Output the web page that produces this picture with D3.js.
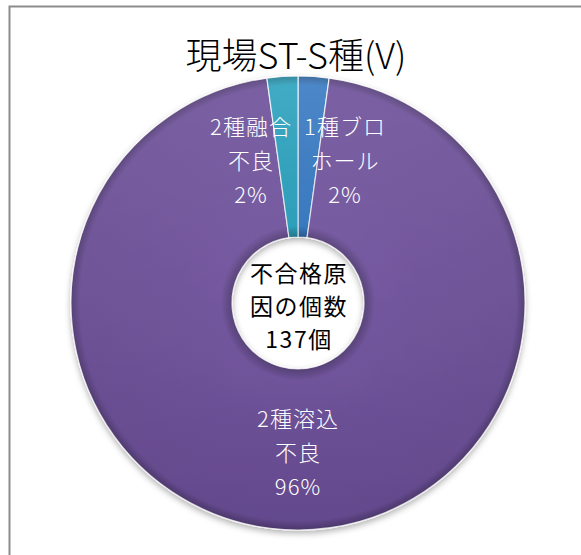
<!DOCTYPE html>
<html><head><meta charset="utf-8">
<script src="https://cdn.jsdelivr.net/npm/d3@7"></script>
<style>html,body{margin:0;padding:0;background:#fff;}svg{display:block;}</style>
</head><body>
<svg id="c" width="581" height="555"></svg>
<script>
const title = "現場ST-S種(V)";
const categories = ["1種ブロ\nホール", "2種溶込\n不良", "2種融合\n不良"];
const values = [3, 131, 3];
const percentLabels = ["2%", "96%", "2%"];
const colors = ["#3a7cc4", "#6c4f99", "#2ea3bf"];
const centerLines = ["不合格原", "因の個数", "137個"];

const svg = d3.select("#c");
const cx = 298, cy = 303, rOuter = 227, rInner = 66;

// frame
svg.append("rect").attr("x", 9.5).attr("y", 6.5).attr("width", 600).attr("height", 600)
  .attr("fill", "#fff").attr("stroke", "#8c8c8c").attr("stroke-width", 2);

const defs = svg.append("defs");
const f = defs.append("filter").attr("id", "sh").attr("x", "-20%").attr("y", "-20%").attr("width", "140%").attr("height", "140%");
f.append("feDropShadow").attr("dx", 0).attr("dy", 3).attr("stdDeviation", 3).attr("flood-color", "#000").attr("flood-opacity", 0.3);

colors.forEach((c, i) => {
  const gr = defs.append("radialGradient").attr("id", "g" + i)
    .attr("gradientUnits", "userSpaceOnUse").attr("cx", 0).attr("cy", 0).attr("r", rOuter);
  const base = d3.color(c);
  const stops = [
    [rInner / rOuter, base.darker(0.7)],
    [rInner / rOuter + 0.05, base.brighter(0.15)],
    [0.55, base.brighter(0.08)],
    [0.96, base],
    [1, base.darker(0.8)]
  ];
  stops.forEach(([o, col]) => gr.append("stop").attr("offset", o).attr("stop-color", col.formatHex()));
});
const lg = defs.append("linearGradient").attr("id", "lt").attr("x1", 0).attr("y1", 0).attr("x2", 0).attr("y2", 1);
lg.append("stop").attr("offset", 0).attr("stop-color", "#fff").attr("stop-opacity", 0.1);
lg.append("stop").attr("offset", 1).attr("stop-color", "#000").attr("stop-opacity", 0.08);

const pie = d3.pie().sort(null).value(d => d)(values);
const arc = d3.arc().innerRadius(rInner).outerRadius(rOuter);

const g = svg.append("g").attr("transform", `translate(${cx},${cy})`);
const sg = g.append("g").attr("filter", "url(#sh)");
sg.selectAll("path.s").data(pie).enter().append("path").attr("class", "s")
  .attr("d", arc).attr("fill", (d, i) => `url(#g${i})`)
  .attr("stroke", "#ffffff").attr("stroke-width", 1.2).attr("stroke-opacity", 0.8);
sg.selectAll("path.o").data(pie).enter().append("path").attr("class", "o")
  .attr("d", arc).attr("fill", "url(#lt)").attr("pointer-events", "none");

// labels
const labelR = 150;
pie.forEach((d, i) => {
  let a = (d.startAngle + d.endAngle) / 2;
  const frac = (d.endAngle - d.startAngle) / (2 * Math.PI);
  if (frac < 0.05) a += (a < Math.PI ? 0.25 : -0.25);
  const x = labelR * Math.sin(a), y = -labelR * Math.cos(a);
  const lines = categories[i].split("\n").concat([percentLabels[i]]);
  const t = g.append("text").attr("text-anchor", "middle").attr("fill", "#fff")
    .attr("font-family", "'Noto Sans CJK JP', sans-serif").attr("font-size", 22)
    .attr("font-weight", 300).attr("letter-spacing", 1);
  lines.forEach((l, k) => {
    t.append("tspan").attr("x", x).attr("y", y + (k - 1) * 34 + 8).text(l);
  });
});

// center text
const ct = g.append("text").attr("text-anchor", "middle").attr("fill", "#000")
  .attr("font-family", "'Noto Sans CJK JP', sans-serif").attr("font-size", 23).attr("letter-spacing", 1.5);
centerLines.forEach((l, k) => {
  ct.append("tspan").attr("x", 1).attr("y", (k - 1) * 33 + 12).text(l);
});

svg.append("text").attr("x", 296).attr("y", 69).attr("text-anchor", "middle")
  .attr("font-family", "'Noto Sans CJK JP', sans-serif").attr("font-size", 36).attr("font-weight", 300).attr("fill", "#000")
  .text(title);
</script>
</body></html>
